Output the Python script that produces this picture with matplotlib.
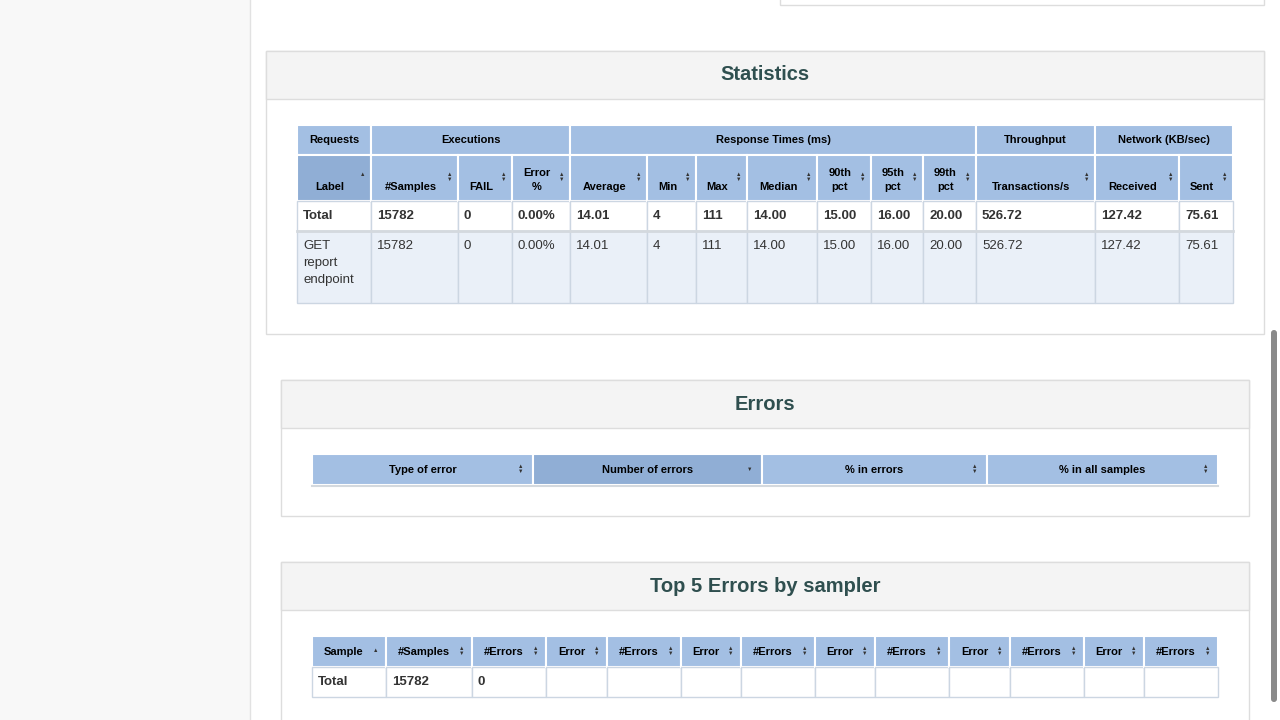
import matplotlib
matplotlib.use("Agg")
import matplotlib.pyplot as plt
from matplotlib.patches import Rectangle, FancyBboxPatch

plt.rcParams['font.family'] = ['Liberation Sans', 'DejaVu Sans']

# ---- data ----
stat_groups = ["Requests", "Executions", "Response Times (ms)", "Throughput", "Network (KB/sec)"]
stat_group_span = [1, 3, 7, 1, 2]
stat_cols = ["Label", "#Samples", "FAIL", "Error\n%", "Average", "Min", "Max", "Median",
             "90th\npct", "95th\npct", "99th\npct", "Transactions/s", "Received", "Sent"]
stat_total = ["Total", "15782", "0", "0.00%", "14.01", "4", "111", "14.00", "15.00",
              "16.00", "20.00", "526.72", "127.42", "75.61"]
stat_get = ["GET\nreport\nendpoint", "15782", "0", "0.00%", "14.01", "4", "111", "14.00",
            "15.00", "16.00", "20.00", "526.72", "127.42", "75.61"]
err_cols = ["Type of error", "Number of errors", "% in errors", "% in all samples"]
top_cols = ["Sample", "#Samples", "#Errors", "Error", "#Errors", "Error", "#Errors", "Error",
            "#Errors", "Error", "#Errors", "Error", "#Errors"]
top_total = ["Total", "15782", "0", "", "", "", "", "", "", "", "", "", ""]

# ---- layout (pixels) ----
stat_x = [297, 371, 458, 512, 570, 647, 696, 747, 817, 871, 923, 976, 1095, 1179, 1233]
err_x = [312, 533, 762, 987, 1218]
top_x = [312, 386, 472, 546, 607, 681, 741, 815, 875, 949, 1010, 1084, 1144, 1218]

HDR = "#a3bfe3"
HDR_SORT = "#90aed5"
GRID = "#ccd6e2"
ROW2 = "#eaf0f8"
TITLE = "#2f4f4f"
TXT = "#333333"

fig = plt.figure(figsize=(12.8, 7.2), dpi=100)
ax = fig.add_axes([0, 0, 1, 1])
ax.set_xlim(0, 1280)
ax.set_ylim(720, 0)
ax.axis('off')

def rect(x0, y0, x1, y1, fc, ec="none", lw=1.0, z=1):
    ax.add_patch(Rectangle((x0, y0), x1 - x0, y1 - y0, facecolor=fc, edgecolor=ec, lw=lw, zorder=z))

def sort_icon(x, y, kind="both"):
    if kind in ("both", "up"):
        ax.text(x, y - 2.5 if kind == "both" else y, "▲", fontsize=4, ha='center', va='center', color="#333", zorder=5)
    if kind in ("both", "down"):
        ax.text(x, y + 2.5 if kind == "both" else y, "▼", fontsize=4, ha='center', va='center', color="#333", zorder=5)

# background
rect(0, 0, 250, 720, "#f8f8f8")
ax.plot([250, 250], [0, 720], color="#e2e2e2", lw=1)
rect(780, -5, 1264, 5, "white", "#dddddd")
ax.add_patch(FancyBboxPatch((1271, 330), 6, 372, boxstyle="round,pad=0,rounding_size=3",
                            facecolor="#8a8a8a", edgecolor="none"))

def panel(x0, y0, x1, y1, hy, title):
    rect(x0, y0, x1, y1, "white", "#dddddd")
    rect(x0, y0, x1, hy, "#f4f4f4", "#dddddd")
    ax.text((x0 + x1) / 2, (y0 + hy) / 2, title, fontsize=14.5, fontweight='bold',
            color=TITLE, ha='center', va='center')

panel(266, 51, 1264, 334, 99, "Statistics")
panel(281, 380, 1249, 516, 428, "Errors")
panel(281, 562, 1249, 730, 610, "Top 5 Errors by sampler")

# ---- Statistics table ----
y_g0, y_g1, y_c1, y_t1, y_r1 = 125, 155, 201, 231, 303
ci = 0
for g, s in zip(stat_groups, stat_group_span):
    x0, x1 = stat_x[ci], stat_x[ci + s]
    rect(x0, y_g0, x1, y_g1, HDR, "white", 1.5)
    ax.text((x0 + x1) / 2, (y_g0 + y_g1) / 2, g, fontsize=8, fontweight='bold', ha='center', va='center', color="black")
    ci += s
for i, c in enumerate(stat_cols):
    x0, x1 = stat_x[i], stat_x[i + 1]
    rect(x0, y_g1, x1, y_c1, HDR_SORT if i == 0 else HDR, "white", 1.5)
    ax.text((x0 + x1) / 2 - 4, y_c1 - 9, c, fontsize=8, fontweight='bold', ha='center', va='bottom',
            color="black", linespacing=1.5, multialignment='center')
    sort_icon(x1 - 8, y_c1 - 24 if i else y_c1 - 26, "up" if i == 0 else "both")
    rect(x0, y_c1, x1, y_t1, "white", GRID, 1)
    ax.text(x0 + 6, (y_c1 + y_t1) / 2, stat_total[i], fontsize=9.5, fontweight='bold', ha='left', va='center', color=TXT)
    rect(x0, y_t1, x1, y_r1, ROW2, GRID, 1)
    ax.text(x0 + 6, y_t1 + 9, stat_get[i], fontsize=9.5, ha='left', va='top', color=TXT, linespacing=1.55)
ax.plot([stat_x[0], stat_x[-1]], [y_t1, y_t1], color="#d4d9de", lw=2, zorder=3)

# ---- Errors table ----
for i, c in enumerate(err_cols):
    x0, x1 = err_x[i], err_x[i + 1]
    rect(x0, 454, x1, 485, HDR_SORT if i == 1 else HDR, "white", 1.5)
    ax.text((x0 + x1) / 2, 470, c, fontsize=8, fontweight='bold', ha='center', va='center', color="black")
    sort_icon(x1 - 12, 469, "down" if i == 1 else "both")
ax.plot([err_x[0], err_x[-1]], [485.5, 485.5], color="#d4d9de", lw=1.5)

# ---- Top 5 table ----
for i, c in enumerate(top_cols):
    x0, x1 = top_x[i], top_x[i + 1]
    rect(x0, 636, x1, 667, HDR, "white", 1.5)
    ax.text((x0 + x1) / 2 - 5, 652, c, fontsize=8, fontweight='bold', ha='center', va='center', color="black")
    sort_icon(x1 - 10, 651, "up" if i == 0 else "both")
    rect(x0, 667, x1, 697, "white", GRID, 1)
    ax.text(x0 + 6, 682, top_total[i], fontsize=9.5, fontweight='bold', ha='left', va='center', color=TXT)

fig.savefig("out.png", dpi=100)
